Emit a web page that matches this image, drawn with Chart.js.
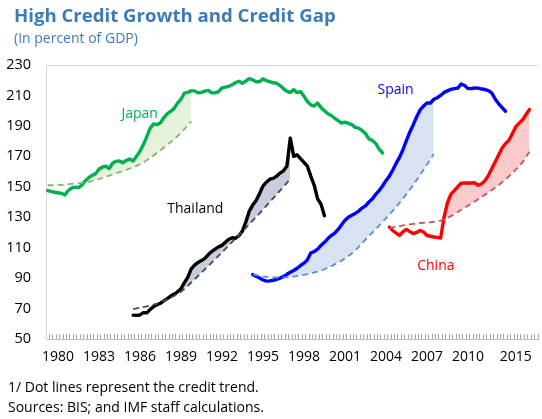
<!DOCTYPE html>
<html lang="en">
  <head>
    <meta charset="UTF-8" />
    <title>High Credit Growth and Credit Gap</title>
    <script src="https://cdn.jsdelivr.net/npm/chart.js"></script>
    <style>
      body {
        margin: 0;
        background: #fff;
        font-family: "Open Sans", sans-serif;
      }
      .wrap {
        position: relative;
        width: 542px;
        height: 419px;
        overflow: hidden;
      }
      canvas {
        position: absolute;
        left: 0;
        top: 0;
      }
      .title {
        position: absolute;
        left: 14px;
        top: 2px;
        font-size: 18.6px;
        font-weight: bold;
        color: #3d7bb6;
        white-space: nowrap;
      }
      .subtitle {
        position: absolute;
        left: 14px;
        top: 28px;
        font-size: 14px;
        color: #3d7bb6;
        white-space: nowrap;
      }
      .note {
        position: absolute;
        left: 8px;
        font-size: 14px;
        color: #000;
        white-space: nowrap;
      }
    </style>
  </head>
  <body>
    <div class="wrap">
      <canvas id="myChart" width="542" height="419"></canvas>
      <div class="title">High Credit Growth and Credit Gap</div>
      <div class="subtitle">(In percent of GDP)</div>
      <div class="note" style="top: 377px">1/ Dot lines represent the credit trend.</div>
      <div class="note" style="top: 397px">Sources: BIS; and IMF staff calculations.</div>
    </div>

    <script>
      // quarterly periods on the category axis
      const nPeriods = 144;
      const categories = [];
      for (let i = 0; i < nPeriods; i++) {
        const q = i + 1; // first period is 1979Q2
        categories.push(1979 + Math.floor(q / 4) + "Q" + ((q % 4) + 1));
      }

      // tick labels and the period they sit on
      const xTickText = ["1980", "1983", "1986", "1989", "1992", "1995", "1998", "2001", "2004", "2007", "2010", "2015"];
      const xTickIdx = [3, 15, 27, 39, 51, 63, 75, 87, 99, 111, 123, 137];

      // Japan (starts at period 0)
      const japanStart = 0;
      const japan = [
        147.5, 147, 146.4, 146.1, 145.7, 144.6, 147.5, 149.2, 149.8, 149.5,
        151, 154, 156, 157.5, 158.5, 161.5, 163, 163.5, 162, 165.5,
        166.7, 167, 165.8, 167.3, 168.2, 167, 170, 173.3, 177.7, 183,
        188.5, 191.3, 190.8, 192, 195.5, 198, 199.5, 201.5, 205, 207.5,
        211.5, 212, 213, 213, 211.7, 212, 212.8, 213.3, 211.7, 211.7,
        212.5, 215, 215.5, 216, 217, 218.5, 219.3, 218, 219.5, 221,
        220.2, 219, 219, 220.9, 219.8, 219, 218.3, 218, 216.5, 214.5,
        212.7, 212, 213.8, 211.8, 212.5, 209.5, 206, 203.8, 203, 205,
        202, 200, 198, 196.8, 195, 193.5, 191.9, 192.5, 191.7, 190.8,
        189, 188.5, 187, 185, 181.5, 180.5, 178.5, 174.8, 172.2,
      ];
      const japanTrend = [
        151, 151, 151.1, 151.2, 151.3, 151.5, 151.7, 151.9, 152.1, 152.3,
        152.6, 152.9, 153.3, 153.8, 154.4, 155.1, 155.8, 156.6, 157.3, 158.1,
        158.9, 159.6, 160.4, 161.2, 162, 162.8, 163.7, 164.8, 166, 167.5,
        169, 170.6, 172.3, 174, 175.8, 177.6, 179.4, 181.3, 183.3, 185.4,
        187.8, 190.3, 193,
      ];

      // Thailand (starts at period 25)
      const thaiStart = 25;
      const thailand = [
        65.7, 65.5, 65.8, 67.3, 67.2, 69.5, 71.3, 72.5, 73.5, 75,
        76.5, 78.2, 79.5, 81, 83, 87, 90.5, 96, 98.5, 100.3,
        101.5, 103, 105.5, 107.5, 109, 110.5, 111.5, 113.5, 115.5, 116.5,
        116.2, 118, 121, 127, 134, 138, 141, 145.5, 150.5, 153,
        155, 155.5, 157, 159, 160.5, 163.5, 182, 170, 171, 168.5,
        166, 163.5, 157, 151, 142, 138.5, 131,
      ];
      const thaiTrend = [
        69.7, 70.1, 70.5, 71, 71.5, 72, 72.6, 73.3, 74.1, 75,
        76, 77.1, 78.3, 79.6, 81, 83, 85, 87.1, 89.2, 91.4,
        93.6, 95.8, 98, 100.2, 102.4, 104.6, 106.9, 109.2, 111.5, 113.8,
        116.1, 118.4, 120.7, 123, 125.4, 127.8, 130.2, 132.6, 135, 137.5,
        140, 142.5, 145, 147.5, 150, 152.6, 155.2,
      ];

      // Spain (starts at period 60)
      const spainStart = 60;
      const spain = [
        92.3, 91.2, 90, 88.8, 88, 88.2, 88.6, 89.2, 90, 91,
        92.5, 93.8, 95, 96.5, 98.3, 99.8, 102, 106.5, 107.5, 109,
        111.5, 113.5, 116, 118, 119.5, 122, 125, 128, 130, 131.3,
        132.5, 134, 136, 137.5, 140, 142, 145, 147.5, 150.5, 154,
        157, 161, 165.5, 169.5, 174.5, 180.5, 186, 190.8, 196, 200.5,
        203, 205, 205, 207.5, 208.5, 210, 212, 213, 214, 214.5,
        214.8, 217.5, 216.5, 214.5, 214.5, 215, 214.8, 214.2, 213.9, 213.2,
        211.5, 207.5, 204.5, 202, 199.6,
      ];
      const spainTrend = [
        92.5, 92, 91.6, 91.2, 90.9, 90.7, 90.5, 90.4, 90.3, 90.4,
        90.5, 90.7, 91, 91.4, 91.8, 92.2, 92.6, 93.1, 93.7, 94.3,
        95, 95.8, 96.8, 97.8, 99, 100.2, 101.5, 102.9, 104.5, 106.2,
        108, 110.5, 113, 115.3, 117.6, 119.9, 122.2, 124.5, 126.9, 129.3,
        131.7, 134.2, 136.8, 139.5, 142.3, 145.2, 148.2, 151.3, 154.5, 157.8,
        161.1, 164.5, 168, 171.5,
      ];

      // China (starts at period 100)
      const chinaStart = 100;
      const china = [
        123.5, 121.3, 119.5, 118, 120.5, 122, 120.5, 119.3, 120, 121.3,
        120.3, 118, 117.5, 117, 116.8, 116.3, 130, 139.5, 145, 147.5,
        150, 152.3, 152.5, 152.5, 152.5, 152.6, 151, 152, 154, 157.5,
        162, 166.5, 171, 175.5, 178.5, 180.5, 185, 189.5, 191.8, 194,
        197.5, 200.7,
      ];
      const chinaTrend = [
        122.8, 123.3, 123.8, 124.2, 124.6, 125, 125.3, 125.6, 125.9, 126.1,
        126.3, 126.5, 126.7, 127, 127.3, 127.8, 128.5, 129.5, 130.7, 132,
        133.4, 134.8, 136.2, 137.6, 139, 140.4, 141.8, 143.3, 144.8, 146.3,
        147.9, 149.5, 151.2, 153, 154.9, 156.9, 159, 161.2, 163.5, 166.2,
        169.5, 173,
      ];

      // put a series on the full period axis, null outside its range
      function onAxis(start, values) {
        const out = new Array(nPeriods).fill(null);
        values.forEach((v, i) => (out[start + i] = v));
        return out;
      }

      function trendSet(start, values, color) {
        return {
          data: onAxis(start, values),
          borderColor: color,
          borderWidth: 1.8,
          borderDash: [6, 4],
          pointRadius: 0,
          fill: false,
        };
      }

      function lineSet(start, values, color, trendIndex, shade) {
        return {
          data: onAxis(start, values),
          borderColor: color,
          borderWidth: 3.4,
          borderJoinStyle: "round",
          borderCapStyle: "round",
          pointRadius: 0,
          fill: { target: trendIndex, above: shade, below: "rgba(0,0,0,0)" },
        };
      }

      // series names drawn next to the lines (period index, value)
      const seriesLabels = [
        { text: "Japan", at: [26.9, 195.2], color: "#00b050" },
        { text: "Thailand", at: [43.2, 133.1], color: "#000000" },
        { text: "Spain", at: [101.8, 211], color: "#0000ff" },
        { text: "China", at: [113.6, 95.4], color: "#ff0000" },
      ];

      const labelPlugin = {
        id: "seriesLabels",
        afterDatasetsDraw(chart) {
          const { ctx, scales } = chart;
          ctx.save();
          ctx.font = '14px "Open Sans"';
          ctx.textAlign = "center";
          ctx.textBaseline = "alphabetic";
          seriesLabels.forEach((l) => {
            ctx.fillStyle = l.color;
            ctx.fillText(l.text, scales.x.getPixelForValue(l.at[0]), scales.y.getPixelForValue(l.at[1]));
          });
          ctx.restore();
        },
      };

      const ctx = document.getElementById("myChart").getContext("2d");
      const myChart = new Chart(ctx, {
        type: "line",
        data: {
          labels: categories,
          datasets: [
            trendSet(japanStart, japanTrend, "#86b56f"),
            lineSet(japanStart, japan, "#00b050", 0, "#e7f2dc"),
            trendSet(thaiStart, thaiTrend, "#4a4a4a"),
            lineSet(thaiStart, thailand, "#000000", 2, "#c8cddd"),
            trendSet(spainStart, spainTrend, "#5b8fd6"),
            lineSet(spainStart, spain, "#0000ff", 4, "#d8e2f0"),
            trendSet(chinaStart, chinaTrend, "#bf5a5a"),
            lineSet(chinaStart, china, "#ff0000", 6, "#fbcaca"),
          ],
        },
        options: {
          responsive: false,
          animation: false,
          devicePixelRatio: 1,
          layout: { padding: { top: 65, right: 4, left: 0, bottom: 0 } },
          plugins: {
            legend: { display: false },
            tooltip: { enabled: false },
          },
          scales: {
            x: {
              type: "category",
              offset: true,
              afterFit: (scale) => {
                scale.height = 80;
                scale.paddingLeft = 0;
                scale.paddingRight = 0;
              },
              grid: {
                offset: true,
                drawOnChartArea: false,
                drawTicks: true,
                tickLength: -5,
                color: "#a6a6a6",
              },
              border: { color: "#bfbfbf" },
              ticks: {
                autoSkip: false,
                maxRotation: 0,
                minRotation: 0,
                padding: 15,
                color: "#000",
                font: { family: "Open Sans", size: 14 },
                callback: function (value, index) {
                  const k = xTickIdx.indexOf(index);
                  return k >= 0 ? xTickText[k] : "";
                },
              },
            },
            y: {
              min: 50,
              max: 230,
              afterFit: (scale) => {
                scale.width = 46;
              },
              grid: {
                drawTicks: false,
                color: (c) => (c.tick && c.tick.value === 230 ? "#d9d9d9" : "rgba(0,0,0,0)"),
              },
              border: { color: "#d9d9d9" },
              ticks: {
                stepSize: 20,
                padding: 15,
                color: "#000",
                font: { family: "Open Sans", size: 14.5 },
              },
            },
          },
        },
        plugins: [labelPlugin],
      });
    </script>
  </body>
</html>
